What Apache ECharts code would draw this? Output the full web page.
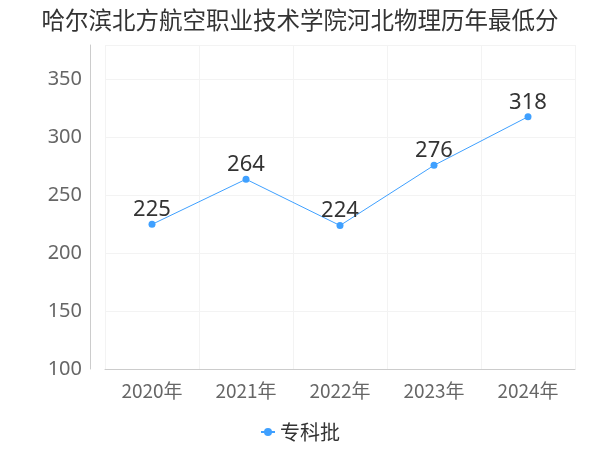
<!DOCTYPE html>
<html><head><meta charset="utf-8">
<script src="https://cdn.jsdelivr.net/npm/echarts@6/dist/echarts.min.js"></script>
<style>html,body{margin:0;padding:0}#c{width:600px;height:450px}</style>
</head><body><div id="c"></div>
<script>
const categories = ['2020年','2021年','2022年','2023年','2024年'];
const values = [225, 264, 224, 276, 318];
const seriesName = '专科批';
const chart = echarts.init(document.getElementById('c'));
chart.setOption({
  title:{text:'哈尔滨北方航空职业技术学院河北物理历年最低分',left:'center',top:3,textStyle:{fontSize:23.5,fontWeight:'normal',color:'#333',fontFamily:'Noto Sans CJK SC'}},
  legend:{bottom:3,itemWidth:14,itemHeight:10,textStyle:{fontSize:20,color:'#333',fontFamily:'Noto Sans CJK SC'},data:[seriesName]},
  grid:{left:105,right:25,top:45,bottom:81},
  xAxis:{type:'category',data:categories,axisTick:{show:false},axisLine:{lineStyle:{color:'#ccc'}},
    axisLabel:{fontSize:19,color:'#666',margin:12,fontFamily:'Noto Sans CJK SC'},splitLine:{show:true,lineStyle:{color:'#f3f3f3'}}},
  yAxis:{type:'value',min:100,max:380,interval:50,offset:15,axisLine:{show:true,lineStyle:{color:'#ccc'}},
    axisLabel:{fontSize:20,color:'#666',fontFamily:'Noto Sans',showMaxLabel:false},splitLine:{lineStyle:{color:'#f3f3f3'}}},
  series:[{name:seriesName,type:'line',data:values,symbol:'circle',symbolSize:7,
    itemStyle:{color:'#3fa0ff'},lineStyle:{width:1,color:'#3fa0ff'},
    label:{show:true,position:'top',fontSize:22,color:'#333',fontFamily:'Noto Sans',distance:0}}]
});
</script></body></html>
